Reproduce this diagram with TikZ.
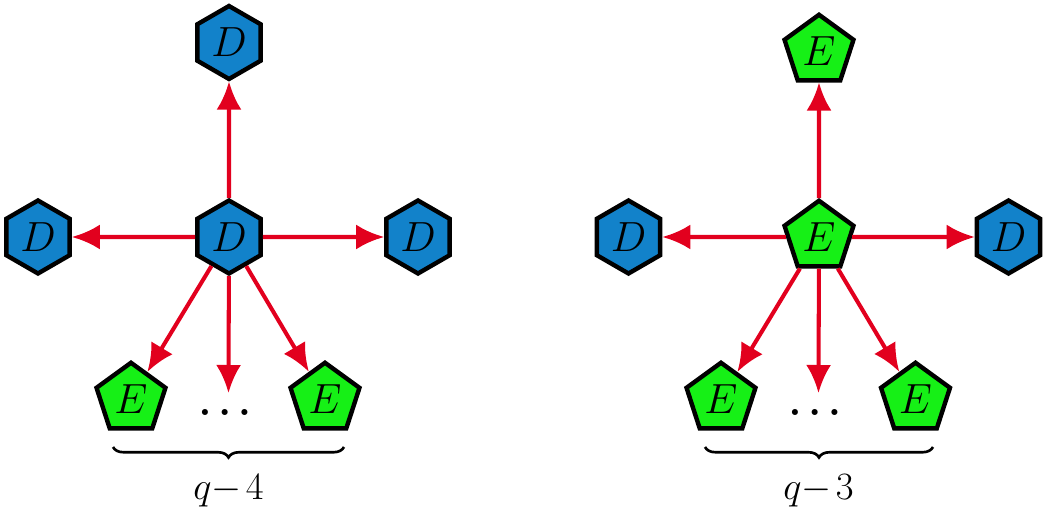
\RequirePackage{fix-cm}
\documentclass[tikz,border=0pt]{standalone}
\usepackage{amsmath}
\usetikzlibrary{
  arrows.meta,
  shapes.geometric,
  decorations.pathreplacing
}
\definecolor{hexblue}{RGB}{18, 130, 202}
\definecolor{pentgreen}{RGB}{22, 240, 22}
\definecolor{arrowred}{RGB}{226, 0, 30}

\tikzset{
  dhex/.style={regular polygon, regular polygon sides=6, shape border rotate=30,
    draw=black, line width=2.5pt, fill=hexblue, minimum size=1.46cm, inner sep=0pt,
    font=\fontsize{24}{28}\selectfont},
  epent/.style={regular polygon, regular polygon sides=5,
    draw=black, line width=2.5pt, fill=pentgreen, minimum size=1.45cm, inner sep=0pt,
    font=\fontsize{24}{28}\selectfont},
  redarrow/.style={-{Latex[length=5.6mm, width=5mm]}, line width=2.3pt, arrowred},
  countbrace/.style={decorate, decoration={brace, mirror, amplitude=0.21cm}, line width=1.5pt},
  bigdots/.style={font=\fontsize{22}{26}\selectfont\boldmath, inner sep=0pt},
  countlabel/.style={font=\fontsize{22}{26}\selectfont}
}

\begin{document}
\begin{tikzpicture}
  \useasboundingbox (0, 0) rectangle (20.94, -10.26);
  % left: star around D
  \node[dhex] (Dc) at (4.58, -4.74) {$D$};
  \node[dhex] (Dt) at (4.58, -0.85) {$D$};
  \node[dhex] (Dl) at (0.76, -4.74) {$D$};
  \node[dhex] (Dr) at (8.36, -4.74) {$D$};
  \node[epent] (El) at (2.62, -7.98) {$E$};
  \node[epent] (Er) at (6.50, -7.98) {$E$};
  \node[bigdots] (dotsL) at (4.57, -8.24) {$\dots$};
  \coordinate (midL) at (4.57, -7.86);
  \draw[redarrow] (Dc) -- (Dt);
  \draw[redarrow] (Dc) -- (Dl);
  \draw[redarrow] (Dc) -- (Dr);
  \draw[redarrow] (Dc) -- (El);
  \draw[redarrow] (Dc) -- (Er);
  \draw[redarrow] (Dc) -- (midL);
  \coordinate (braceLa) at (2.26, -8.94);
  \coordinate (braceLb) at (6.88, -8.94);
  \draw[countbrace] (braceLa) -- (braceLb);
  \node[countlabel] (qL) at (4.57, -9.82) {$q{-}\mkern2mu4$};
  % right: star around E
  \begin{scope}[xshift=11.8cm]
    \node[epent] (Ec) at (4.58, -4.74) {$E$};
    \node[epent] (Et) at (4.58, -1.02) {$E$};
    \node[dhex] (Dl2) at (0.77, -4.74) {$D$};
    \node[dhex] (Dr2) at (8.37, -4.74) {$D$};
    \node[epent] (El2) at (2.62, -7.98) {$E$};
    \node[epent] (Er2) at (6.51, -7.98) {$E$};
    \node[bigdots] (dotsR) at (4.57, -8.24) {$\dots$};
    \coordinate (midR) at (4.57, -7.86);
    \draw[redarrow] (Ec) -- (Et);
    \draw[redarrow] (Ec) -- (Dl2);
    \draw[redarrow] (Ec) -- (Dr2);
    \draw[redarrow] (Ec) -- (El2);
    \draw[redarrow] (Ec) -- (Er2);
    \draw[redarrow] (Ec) -- (midR);
    \coordinate (braceRa) at (2.30, -8.94);
    \coordinate (braceRb) at (6.86, -8.94);
    \draw[countbrace] (braceRa) -- (braceRb);
    \node[countlabel] (qR) at (4.57, -9.82) {$q{-}\mkern2mu3$};
  \end{scope}
\end{tikzpicture}
\end{document}
